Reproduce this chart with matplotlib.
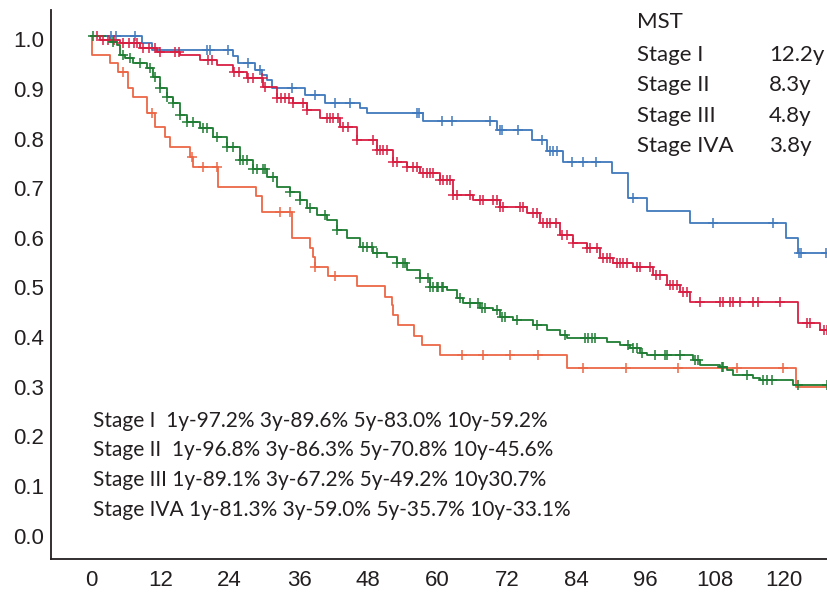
import matplotlib
matplotlib.use("Agg")
import matplotlib.pyplot as plt
import matplotlib.transforms as mtransforms
import numpy as np

# Kaplan-Meier steps: (months, survival after drop)
blue_t = [0, 8.8, 10.6, 24.6, 25.5, 28.4, 29.6, 30.5, 31.3, 37.1, 40.5, 46.6, 47.8, 57.5, 70.3, 76.4,
          79.0, 81.7, 90.2, 93.0, 96.3, 103.7, 120.3, 122.3]
blue_s = [1.0, 0.985, 0.972, 0.960, 0.946, 0.931, 0.921, 0.911, 0.895, 0.881, 0.865, 0.855, 0.845, 0.829,
          0.810, 0.790, 0.768, 0.746, 0.724, 0.673, 0.647, 0.623, 0.593, 0.563]
blue_cens = [3.4, 4.3, 7.6, 20.1, 20.6, 23.7, 27.2, 29.3, 34.8, 38.8, 42.3, 44.8, 56.5, 56.7, 60.8, 62.5,
             69.1, 70.8, 71.2, 73.9, 78.1, 79.5, 80.0, 80.7, 83.3, 85.2, 87.4, 93.9, 107.7, 118.1, 122.5,
             122.9, 127.3]

red_t = [0, 1.6, 5.0, 8.5, 11.4, 15.4, 18.8, 21.8, 24.6, 27.0, 29.8, 32.2, 35.0, 37.4, 39.7, 43.1, 46.1,
         49.5, 52.3, 54.7, 57.0, 60.4, 62.7, 66.1, 70.8, 75.5, 77.7, 81.2, 83.5, 85.9, 88.1, 90.4, 93.9,
         97.3, 99.7, 102.0, 103.7, 122.3, 126.2]
red_s = [1.0, 0.992, 0.986, 0.976, 0.968, 0.962, 0.952, 0.942, 0.927, 0.915, 0.897, 0.875, 0.865, 0.851,
         0.835, 0.817, 0.790, 0.770, 0.746, 0.736, 0.724, 0.710, 0.679, 0.669, 0.655, 0.643, 0.623, 0.599,
         0.583, 0.573, 0.552, 0.542, 0.534, 0.518, 0.498, 0.484, 0.464, 0.421, 0.407]
red_cens = [1.0, 2.0, 3.0, 4.0, 5.5, 6.5, 7.5, 8.0, 9.0, 10.0, 11.0, 12.0, 14.5, 15.3, 20.2, 21.0, 24.8,
            25.6, 27.2, 28.0, 29.6, 30.1, 32.2, 32.9, 33.6, 34.3, 35.0, 36.7, 37.4, 40.9, 41.4, 41.9, 42.8,
            43.6, 44.5, 46.1, 48.8, 49.5, 50.0, 50.6, 51.3, 52.3, 53.0, 54.7, 55.8, 56.5, 57.5, 58.2, 58.7,
            59.2, 60.4, 61.0, 61.6, 62.2, 62.7, 63.4, 65.6, 67.4, 67.9, 69.6, 70.3, 70.8, 71.3, 74.3, 74.8,
            76.5, 77.2, 78.3, 79.0, 79.5, 80.5, 81.5, 82.4, 83.5, 85.9, 86.4, 87.6, 88.7, 89.4, 89.9, 91.1,
            91.6, 92.1, 92.8, 94.5, 95.1, 96.8, 97.8, 98.5, 100.3, 100.8, 101.5, 102.5, 103.2, 105.4, 108.9,
            109.4, 110.6, 111.2, 112.4, 114.6, 115.5, 119.3, 124.0, 124.5, 126.8, 127.4]

green_t = [0, 3.3, 4.5, 5.0, 5.9, 7.3, 9.7, 10.7, 11.9, 13.2, 14.2, 15.4, 16.6, 18.9, 21.1, 23.5, 25.8,
           28.1, 30.5, 32.2, 34.5, 36.2, 37.4, 39.1, 40.9, 42.6, 44.3, 46.6, 48.8, 51.3, 53.0, 54.7, 57.0,
           58.7, 61.6, 63.4, 64.4, 67.4, 69.6, 70.8, 73.1, 76.5, 79.0, 81.2, 82.4, 89.4, 91.6, 93.3, 95.1,
           96.3, 104.2, 105.4, 108.9, 110.1, 111.2, 114.6, 115.8, 121.6]
green_s = [1.0, 0.988, 0.982, 0.962, 0.956, 0.946, 0.935, 0.917, 0.895, 0.877, 0.865, 0.841, 0.827, 0.815,
           0.796, 0.776, 0.750, 0.732, 0.716, 0.696, 0.685, 0.669, 0.653, 0.639, 0.629, 0.609, 0.593, 0.575,
           0.563, 0.554, 0.542, 0.528, 0.512, 0.494, 0.488, 0.472, 0.462, 0.452, 0.448, 0.433, 0.427, 0.417,
           0.407, 0.397, 0.391, 0.383, 0.377, 0.371, 0.361, 0.357, 0.347, 0.337, 0.333, 0.327, 0.317, 0.310,
           0.306, 0.296]
green_cens = [0.3, 3.8, 5.5, 6.8, 8.5, 10.2, 11.1, 12.0, 13.2, 14.2, 15.4, 16.6, 17.6, 19.4, 20.1, 21.8,
              23.5, 24.6, 25.8, 26.3, 27.0, 28.1, 28.7, 29.8, 30.1, 31.5, 34.5, 36.2, 37.9, 40.5, 42.6, 47.1,
              47.8, 48.7, 49.5, 53.0, 54.0, 54.4, 57.0, 58.4, 58.7, 59.2, 59.9, 60.1, 60.8, 61.0, 63.9, 65.6,
              67.0, 67.7, 68.2, 70.3, 71.2, 71.7, 73.8, 77.2, 82.1, 85.5, 86.1, 86.8, 87.3, 93.0, 93.9, 94.5,
              95.4, 97.7, 99.4, 99.7, 102.0, 104.6, 105.1, 109.3, 109.4, 113.6, 116.4, 117.1, 117.9, 122.4,
              127.4]

orange_t = [0, 0.2, 3.3, 4.7, 6.4, 7.3, 9.7, 11.1, 12.8, 13.7, 17.1, 17.7, 22.0, 28.6, 29.6, 34.8, 37.9,
            38.4, 38.8, 41.0, 46.1, 50.9, 52.1, 52.3, 53.2, 55.9, 57.3, 60.4, 82.4, 122.1]
orange_s = [1.0, 0.962, 0.946, 0.927, 0.895, 0.877, 0.845, 0.817, 0.796, 0.776, 0.756, 0.736, 0.696, 0.677,
            0.645, 0.593, 0.573, 0.554, 0.534, 0.516, 0.496, 0.474, 0.458, 0.438, 0.417, 0.395, 0.377, 0.357,
            0.331, 0.292]
orange_cens = [5.5, 10.6, 17.5, 19.4, 21.8, 32.7, 34.5, 38.8, 42.3, 64.2, 67.9, 72.6, 77.4, 85.2, 92.6,
               101.6, 111.9, 119.8]

x_ticks = [0, 12, 24, 36, 48, 60, 72, 84, 96, 108, 120]
y_ticks = [0.0, 0.1, 0.2, 0.3, 0.4, 0.5, 0.6, 0.7, 0.8, 0.9, 1.0]

mst_labels = ["Stage I", "Stage II", "Stage III", "Stage IVA"]
mst_values = ["12.2y", "8.3y", "4.8y", "3.8y"]
rate_lines = [
    "Stage I  1y-97.2% 3y-89.6% 5y-83.0% 10y-59.2%",
    "Stage II  1y-96.8% 3y-86.3% 5y-70.8% 10y-45.6%",
    "Stage III 1y-89.1% 3y-67.2% 5y-49.2% 10y30.7%",
    "Stage IVA 1y-81.3% 3y-59.0% 5y-35.7% 10y-33.1%",
]

T_END = 127.4


def km_curve(ax, t, s, cens, color):
    t = np.asarray(t, dtype=float)
    s = np.asarray(s, dtype=float)
    ax.step(np.append(t, T_END), np.append(s, s[-1]), where="post", color=color, lw=1.3, zorder=2)
    c = np.asarray(cens, dtype=float)
    idx = np.searchsorted(t, c, side="right") - 1
    ax.plot(c, s[idx], linestyle="none", marker="+", ms=7, mew=1.1, color=color, zorder=3)


fig = plt.figure(figsize=(8.27, 5.95), dpi=100)
ax = fig.add_axes([51 / 827, 36 / 595, 1 - 51 / 827, (559 - 10) / 595])

km_curve(ax, blue_t, blue_s, blue_cens, "#4079bd")
km_curve(ax, red_t, red_s, red_cens, "#d81f42")
km_curve(ax, orange_t, orange_s, orange_cens, "#ec6746")
km_curve(ax, green_t, green_s, green_cens, "#1f7d34")

ax.set_xlim(-6.93, T_END)
ax.set_ylim(-0.054, 1.052)
ax.set_xticks(x_ticks)
ax.set_yticks(y_ticks)
ax.set_yticklabels([f"{v:.1f}" for v in y_ticks])
for side in ["top", "right"]:
    ax.spines[side].set_visible(False)
for side in ["left", "bottom"]:
    ax.spines[side].set_linewidth(1.3)
    ax.spines[side].set_color("#231f20")
ax.tick_params(axis="both", length=0, labelsize=16, labelcolor="#231f20")
ax.tick_params(axis="y", pad=5)
ax.tick_params(axis="x", pad=8)
for lab in ax.get_xticklabels() + ax.get_yticklabels():
    lab.set_fontfamily("Liberation Sans")
shift = mtransforms.ScaledTranslation(0, -2.5 / 72, fig.dpi_scale_trans)
for lab in ax.get_yticklabels():
    lab.set_transform(lab.get_transform() + shift)

mst_kw = dict(fontsize=16, family="Lato", color="#231f20", va="baseline")
rate_kw = dict(fontsize=15, family="Lato", color="#231f20", va="baseline")
fig.text(637 / 827, 1 - 28 / 595, "MST", **mst_kw)
for i, (lab, val) in enumerate(zip(mst_labels, mst_values)):
    yb = 1 - (61 + 30.3 * i) / 595
    fig.text(637 / 827, yb, lab, **mst_kw)
    fig.text(769 / 827, yb, val, **mst_kw)
for i, line in enumerate(rate_lines):
    fig.text(93 / 827, 1 - (427 + 29.5 * i) / 595, line, **rate_kw)

fig.savefig("out.png", dpi=100)
